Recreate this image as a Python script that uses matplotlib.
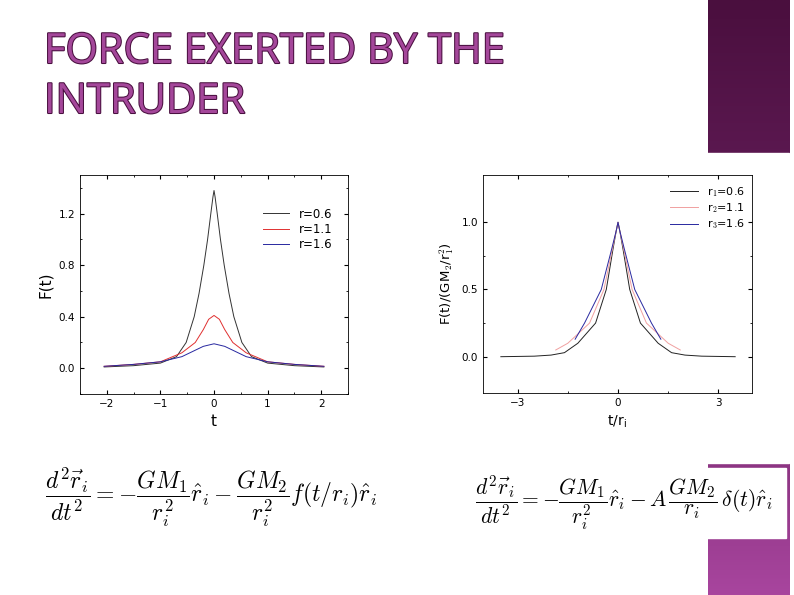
import numpy as np
import matplotlib
matplotlib.use("Agg")
import matplotlib.pyplot as plt
import matplotlib.patheffects as pe
from matplotlib.colors import LinearSegmentedColormap

plt.rcParams['mathtext.fontset'] = 'cm'

# Left panel data F(t)
f06_t = [-2.05, -1.5, -1.0, -0.7, -0.52, -0.37, -0.28, -0.19, -0.12, -0.06, -0.02, 0.0]
f06 = [0.01, 0.02, 0.04, 0.09, 0.2, 0.4, 0.58, 0.8, 1.0, 1.2, 1.33, 1.38]
f11_t = [-2.05, -1.5, -1.0, -0.6, -0.35, -0.2, -0.1, 0.0]
f11 = [0.015, 0.03, 0.05, 0.12, 0.2, 0.3, 0.38, 0.41]
f16_t = [-2.05, -1.5, -1.0, -0.6, -0.4, -0.2, 0.0]
f16 = [0.015, 0.03, 0.05, 0.09, 0.13, 0.17, 0.19]

# Right panel data F/(GM2/r^2) vs t/r
g06_t = [-3.5, -2.5, -2.0, -1.6, -1.2, -0.67, -0.35, -0.15, -0.05, 0.0]
g06 = [0.0, 0.004, 0.012, 0.03, 0.1, 0.25, 0.5, 0.8, 0.94, 1.0]
g11_t = [-1.86, -1.5, -0.85, -0.42, -0.17, -0.05, 0.0]
g11 = [0.05, 0.1, 0.25, 0.5, 0.8, 0.94, 1.0]
g16_t = [-1.28, -1.0, -0.5, -0.19, -0.05, 0.0]
g16 = [0.13, 0.25, 0.5, 0.8, 0.94, 1.0]

def sym(t, v):
    t = np.array(t); v = np.array(v)
    return np.concatenate([t, -t[::-1][1:]]), np.concatenate([v, v[::-1][1:]])

fig = plt.figure(figsize=(7.94, 5.95), dpi=100)
bg = fig.add_axes([0, 0, 1, 1])
bg.set_xlim(0, 794); bg.set_ylim(595, 0); bg.axis('off')
cmap = LinearSegmentedColormap.from_list('p', ['#4a0f3e', '#6a2060', '#a8459e'])
grad = np.linspace(0, 1, 256).reshape(-1, 1)
bg.imshow(grad, cmap=cmap, extent=[708, 790, 595, 0], aspect='auto')
bg.add_patch(plt.Rectangle((400, 153), 389, 310, color='white'))
bg.add_patch(plt.Rectangle((470, 468), 316, 70, color='white'))
for y, s in [(52, 'FORCE EXERTED BY THE'), (102, 'INTRUDER')]:
    bg.text(44, y, s, fontsize=30, color='#a4479a', fontfamily='Open Sans',
            va='center', ha='left',
            path_effects=[pe.withStroke(linewidth=1.5, foreground='#4a1040')])
bg.text(45, 497, r'$\dfrac{d^2\vec{r}_i}{dt^2} = -\dfrac{GM_1}{r_i^2}\hat{r}_i - \dfrac{GM_2}{r_i^2} f(t/r_i)\hat{r}_i$',
        fontsize=17, va='center', ha='left')
bg.text(475, 503, r'$\dfrac{d^2\vec{r}_i}{dt^2} = -\dfrac{GM_1}{r_i^2}\hat{r}_i - A\,\dfrac{GM_2}{r_i}\,\delta(t)\hat{r}_i$',
        fontsize=15.5, va='center', ha='left')

ax1 = fig.add_axes([0.1008, 0.3378, 0.3375, 0.368])
for (tt, vv), c, lab in [((f06_t, f06), '#333333', 'r=0.6'),
                         ((f11_t, f11), '#e03030', 'r=1.1'),
                         ((f16_t, f16), '#2828a0', 'r=1.6')]:
    x, y = sym(tt, vv)
    ax1.plot(x, y, color=c, lw=0.7, label=lab)
ax1.set_xlim(-2.5, 2.5); ax1.set_ylim(-0.2, 1.5)
ax1.set_xticks([-2, -1, 0, 1, 2]); ax1.set_yticks([0.0, 0.4, 0.8, 1.2])
ax1.set_xticks(np.arange(-2.5, 2.6, 0.5), minor=True)
ax1.set_yticks(np.arange(-0.2, 1.5, 0.2), minor=True)
ax1.tick_params(direction='in', labelsize=7.5, top=True, right=True, which='both')
ax1.tick_params(which='major', length=3); ax1.tick_params(which='minor', length=1.5)
ax1.set_xlabel('t', fontsize=11); ax1.set_ylabel('F(t)', fontsize=11)
ax1.legend(frameon=False, fontsize=8.5, loc='upper right', handlelength=2.2,
           bbox_to_anchor=(0.98, 0.9), labelspacing=0.2)

ax2 = fig.add_axes([0.608, 0.3395, 0.339, 0.366])
for (tt, vv), c, lab in [((g06_t, g06), '#222222', r'r$_1$=0.6'),
                         ((g11_t, g11), '#f0a0a0', r'r$_2$=1.1'),
                         ((g16_t, g16), '#2828a0', r'r$_3$=1.6')]:
    x, y = sym(tt, vv)
    ax2.plot(x, y, color=c, lw=0.7, label=lab)
ax2.set_xlim(-4.04, 4.0); ax2.set_ylim(-0.27, 1.35)
ax2.set_xticks([-3, 0, 3]); ax2.set_yticks([0.0, 0.5, 1.0])
ax2.set_xticks([-1.5, 1.5], minor=True)
ax2.set_yticks([0.25, 0.75], minor=True)
ax2.tick_params(direction='in', labelsize=7.5, top=True, right=True, which='both')
ax2.tick_params(which='major', length=3); ax2.tick_params(which='minor', length=1.5)
ax2.set_xlabel(r't/r$_\mathregular{i}$', fontsize=10)
ax2.set_ylabel(r'F(t)/(GM$_2$/r$_1^2$)', fontsize=9.5)
ax2.legend(frameon=False, fontsize=8, loc='upper right', handlelength=2.5,
           bbox_to_anchor=(1.01, 1.0), labelspacing=0.2)
for a in (ax1, ax2):
    for s in a.spines.values():
        s.set_linewidth(0.6)

fig.savefig('out.png', dpi=100)
